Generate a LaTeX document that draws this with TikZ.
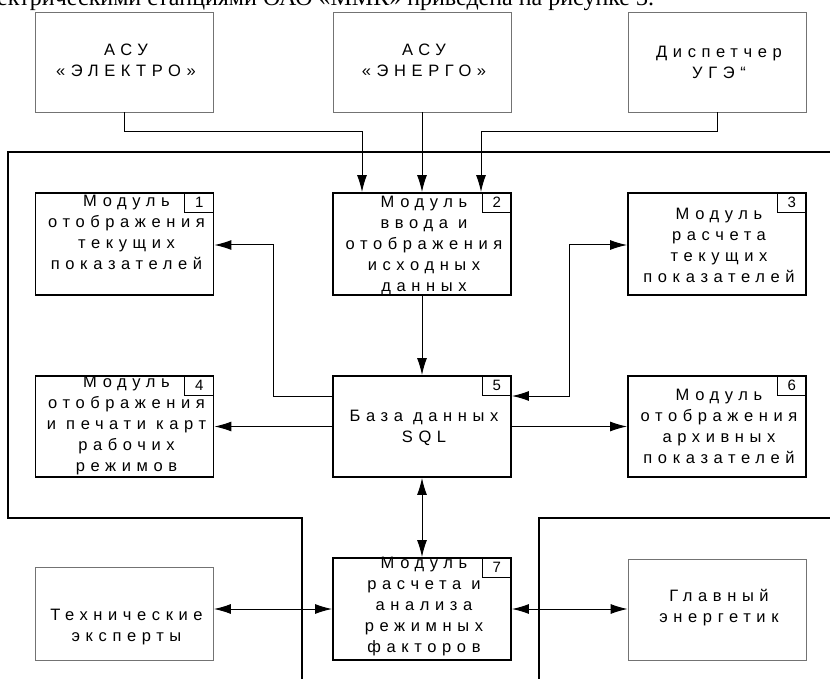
\documentclass[tikz,border=0pt]{standalone}
\usepackage{fontspec}
\setmainfont{Liberation Sans}[LetterSpace=34]
\newfontfamily\plainsans{Liberation Sans}
\newfontfamily\hdrfont{Liberation Serif}
\usetikzlibrary{arrows.meta}
\begin{document}
\begin{tikzpicture}[x=1pt,y=-1pt,
  ext/.style={draw=black!55, line width=0.8pt, minimum width=178pt, minimum height=100pt, inner sep=0pt},
  mod/.style={draw=black, line width=1.9pt, minimum width=178pt, minimum height=102pt, inner sep=0pt},
  txt/.style={align=center, font=\fontsize{16.5}{21}\selectfont, inner sep=0pt},
  numbox/.style={draw=black, line width=1.3pt, minimum width=29pt, minimum height=20pt, inner sep=0pt, anchor=north east, font=\plainsans\fontsize{15}{15}\selectfont},
  conn/.style={line width=1pt},
  arr/.style={conn, -{Latex[length=17pt,width=10pt]}},
  darr/.style={conn, {Latex[length=17pt,width=10pt]}-{Latex[length=17pt,width=10pt]}},
  frame/.style={line width=1.1pt}
]
\useasboundingbox (0,0) rectangle (830,679);

% header text (cut off at top)
\node[anchor=base west, inner sep=0pt, font=\hdrfont\fontsize{24}{24}\selectfont] (hdr) at (-3,6) {ектрическими станциями ОАО «ММК» приведена на рисунке 3.};

% external entities
\node[ext] (a) at (124,62) {};
\node[txt] (ta) at (126,60) {АСУ\\«ЭЛЕКТРО»};
\node[ext] (b) at (422,62) {};
\node[txt] (tb) at (424,60) {АСУ\\«ЭНЕРГО»};
\node[ext] (c) at (717,62) {};
\node[txt] (tc) at (719,62) {Диспетчер\\УГЭ``};

% system frame
\draw[frame] (830,152) -- (8,152) -- (8,518) -- (302,518) -- (302,679);
\draw[frame] (830,518) -- (539,518) -- (539,679);

% modules
\node[mod] (m1) at (124.5,244) {};
\node[txt] at (126.5,232) {Модуль\\отображения\\текущих\\показателей};
\node[numbox] (n1) at (m1.north east) {1};

\node[mod] (m2) at (422,244) {};
\node[txt] at (424,245) {Модуль\\ввода и\\отображения\\исходных\\данных};
\node[numbox] (n2) at (m2.north east) {2};

\node[mod] (m3) at (717,244) {};
\node[txt] at (719,245) {Модуль\\расчета\\текущих\\показателей};
\node[numbox] (n3) at (m3.north east) {3};

\node[mod, minimum height=101pt] (m4) at (124.5,426.5) {};
\node[txt] at (126.5,426) {Модуль\\отображения\\и печати карт\\рабочих\\режимов};
\node[numbox] (n4) at (m4.north east) {4};

\node[mod, minimum height=101pt] (m5) at (422,426.5) {};
\node[txt] at (424,427.5) {База данных\\SQL};
\node[numbox] (n5) at (m5.north east) {5};

\node[mod, minimum height=101pt] (m6) at (717,426.5) {};
\node[txt] at (719,426) {Модуль\\отображения\\архивных\\показателей};
\node[numbox] (n6) at (m6.north east) {6};

\node[mod] (m7) at (422,609) {};
\node[txt] at (424,607) {Модуль\\расчета и\\анализа\\режимных\\факторов};
\node[numbox] (n7) at (m7.north east) {7};

\node[ext, minimum height=93pt] (tex) at (124.5,613.5) {};
\node[txt] at (126.5,627) {Технические\\эксперты};
\node[ext, minimum height=101pt] (gl) at (717,609.5) {};
\node[txt] at (719,607.5) {Главный\\энергетик};

% connectors
\coordinate (j1) at (362,132);
\coordinate (j2) at (481,132);
\draw[arr] (a.south) |- (j1) -- (j1 |- m2.north);
\draw[arr] (b.south) -- (m2.north);
\draw[arr] (c.south) |- (j2) -- (j2 |- m2.north);

\draw[arr] (m2.south) -- (m5.north);

\coordinate (k1) at (273,396);
\coordinate (k2) at (273,245);
\draw[arr] (m5.west |- k1) -- (k1) -- (k2) -- (m1.east |- k2);

\coordinate (k3) at (569,245);
\coordinate (k4) at (569,396);
\draw[darr] (m5.east |- k4) -- (k4) -- (k3) -- (m3.west |- k3);

\draw[arr] (m5.west) -- (m4.east);
\draw[arr] (m5.east) -- (m6.west);
\draw[darr] (m5.south) -- (m7.north);
\draw[darr] (m7.west) -- (tex.east |- m7.west);
\draw[darr] (m7.east) -- (gl.west |- m7.east);
\end{tikzpicture}
\end{document}
